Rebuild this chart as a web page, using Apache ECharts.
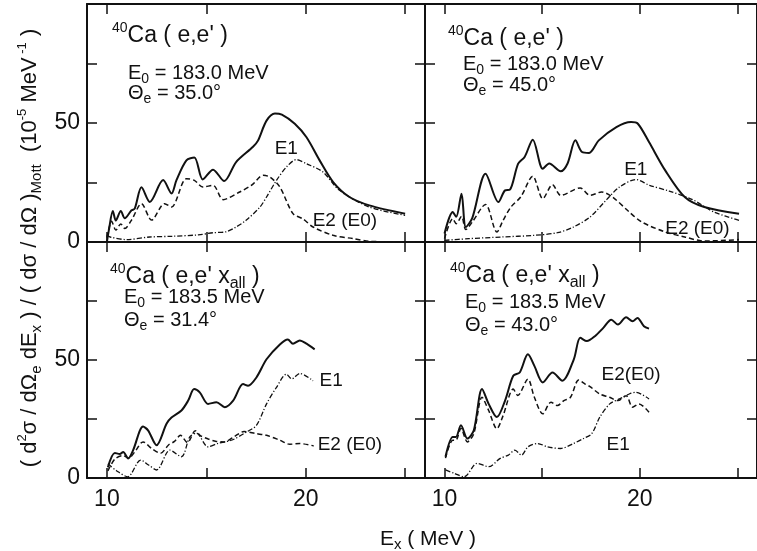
<!DOCTYPE html>
<html>
<head>
<meta charset="utf-8">
<script src="https://cdn.jsdelivr.net/npm/echarts@6/dist/echarts.min.js"></script>
<style>
html, body { margin: 0; padding: 0; background: #fff; }
#chart { width: 757px; height: 551px; }
</style>
</head>
<body>
<div id="chart"></div>
<script>
// Axis ranges and tick positions: excitation energy (MeV) and cross section (10^-5 MeV^-1)
const xRange = [9, 26];
const yRange = [0, 100];
const xTickValues = [10, 15, 20, 25];
const xLabelValues = [10, 20];
const yTickValues = [0, 25, 50, 75];
const yLabelValues = [0, 50];

// 40Ca(e,e'), E0 = 183.0 MeV, theta_e = 35.0 deg
const ee35Total = [[10.0,0],[10.1,5],[10.3,13],[10.45,9],[10.7,13],[10.9,10],[11.24,13.3],[11.4,14],[11.74,23],[12.16,16.8],[12.83,26],[13.25,20.4],[13.5,26],[14.0,34.3],[14.4,35.5],[14.82,26.3],[15.34,30.4],[15.9,25.6],[16.5,33.6],[17.35,40],[17.6,42.6],[18.03,51],[18.45,54],[18.8,53.5],[19.45,49.7],[20.04,44],[20.7,34.3],[21.38,25.2],[22.2,18.9],[23.2,15.4],[25.0,11.9]];
const ee35E2 = [[10.0,1.8],[10.24,8.7],[10.45,5],[10.7,7.6],[10.9,5.7],[11.24,9.2],[11.74,16.1],[12.25,9.2],[12.9,16.1],[13.25,14.7],[14.0,26.6],[14.4,25.9],[14.82,23.1],[15.34,23.8],[15.85,17.8],[16.68,21],[17.3,24],[17.86,28],[18.2,27.3],[18.7,23.1],[19.36,11.9],[19.86,9.7],[20.37,6.3],[21.38,2.8],[22.4,1.4],[23.2,0.3],[25.0,0]];
const ee35E1 = [[10.0,2.8],[10.2,2],[11.0,1],[12.16,2.1],[13.3,2.4],[14.6,3],[15.34,3.9],[16.0,4.3],[16.5,6.3],[17.0,9.1],[17.7,14.7],[18.03,18.9],[18.53,25.9],[19.03,31.5],[19.53,34.6],[20.04,32.9],[20.87,29.4],[21.7,21.7],[23.2,14.7],[25.0,11.2]];

// 40Ca(e,e'), E0 = 183.0 MeV, theta_e = 45.0 deg
const ee45Total = [[10.0,3.6],[10.42,12.6],[10.6,10.6],[10.87,20.3],[11.09,6.3],[11.42,10],[12.1,28.7],[12.76,16.8],[13.1,21.7],[13.35,22],[13.77,32.9],[14.1,35.7],[14.52,43],[15.03,30.8],[15.36,33],[15.95,29.7],[16.3,33],[16.7,42.7],[17.04,37.8],[17.4,37.4],[17.9,42.7],[18.8,48.3],[19.55,50.4],[19.9,49.7],[20.47,42],[21.3,30.1],[22.3,18.9],[23.3,14.7],[25.08,11.9]];
const ee45E2 = [[10.0,1.4],[10.42,9.8],[10.6,7.7],[10.87,10.8],[11.09,5.2],[11.42,8.4],[12.1,15.8],[12.68,4.2],[13.0,9.1],[13.4,14.7],[13.9,18.9],[14.52,27.6],[15.03,18.2],[15.53,24.1],[15.95,19.6],[16.95,22.7],[17.45,19.6],[18.04,21],[18.6,18.9],[19.46,12.6],[20.1,8.4],[21.3,4.2],[22.3,2.1],[23.3,0.4],[25.08,1]];
const ee45E1 = [[10.0,0.7],[11.25,1.4],[12.93,2.1],[14.6,2.8],[15.78,3.9],[16.6,6.3],[17.45,10.5],[18.3,17.8],[18.96,23.1],[19.8,26.2],[20.5,23.8],[21.5,21.4],[22.7,17.8],[23.8,12.6],[25.08,9.1]];

// 40Ca(e,e'x_all), E0 = 183.5 MeV, theta_e = 31.4 deg
const eex31Total = [[10.05,4.5],[10.4,10.6],[10.65,10.2],[10.82,11],[11.07,8.3],[11.32,11.8],[11.82,21.8],[12.07,20.2],[12.5,13.9],[13.0,23],[13.25,25.6],[13.75,28.6],[14.09,32.8],[14.39,37.7],[14.67,36.3],[15.09,31.4],[15.51,32.1],[15.93,30],[16.35,32.8],[16.85,39.8],[17.1,39.1],[17.52,42.6],[18.03,50.3],[18.7,56.6],[19.1,58.7],[19.36,56.9],[19.7,58.3],[20.04,56.9],[20.45,54.5]];
const eex31E2 = [[10.05,3],[10.4,8],[10.8,9.5],[11.1,8.5],[11.4,11],[11.82,15.3],[12.25,12.5],[12.7,10.5],[13.1,14],[13.4,15.5],[13.7,18.1],[14.05,15],[14.45,20],[14.7,18],[15.1,16.5],[15.5,15.5],[15.9,15.3],[16.4,17.5],[16.9,19.7],[17.5,18.8],[18.03,18.1],[18.7,16],[19.2,14.3],[19.7,14.6],[20.4,13.6]];
const eex31E1 = [[10.05,6],[10.5,3],[11.05,0.5],[11.7,7.6],[12.1,5.5],[12.5,3.4],[13.17,11.8],[13.75,9],[14.17,17.4],[14.5,19],[15.09,13.2],[15.6,14.7],[16.3,16.1],[17.02,19.5],[17.52,22.3],[18.03,31.4],[18.53,38.4],[19.03,44],[19.3,42],[19.7,44.3],[20.37,41.2]];

// 40Ca(e,e'x_all), E0 = 183.5 MeV, theta_e = 43.0 deg
const eex43Total = [[10.05,9],[10.42,17.4],[10.58,17.4],[10.84,22.3],[11.17,16.7],[11.5,20.2],[11.92,37.7],[12.26,31.4],[12.68,25.8],[13.1,32.8],[13.52,43.3],[13.85,44.7],[14.27,52.4],[14.6,47.5],[15.03,40.5],[15.53,44.7],[16.03,41.2],[16.62,50.3],[16.95,59.4],[17.29,58],[17.7,60.1],[18.13,63.6],[18.54,67.1],[18.88,65],[19.3,68.1],[19.63,66.4],[19.88,67.8],[20.21,64.3],[20.47,63.3]];
const eex43E2 = [[10.05,8.4],[10.42,16],[10.58,16],[10.84,21],[11.17,15.3],[11.5,18.8],[11.92,34.2],[12.26,28.6],[12.68,20.9],[13.0,26.5],[13.52,37.7],[13.75,35],[14.27,41.9],[14.6,34.2],[15.03,27.2],[15.45,32.1],[15.78,30.7],[16.11,32.8],[16.45,34.2],[16.87,41.5],[17.2,39.8],[17.45,38.7],[17.95,35.6],[18.45,34.2],[18.88,32.8],[19.3,34.9],[19.63,30],[19.96,31.4],[20.47,27.9]];
const eex43E1 = [[10.05,3.4],[10.5,2],[11.0,0.5],[11.67,6.2],[12.26,4.8],[12.85,8.3],[13.27,9.7],[13.6,11.8],[13.94,9.7],[14.27,13.2],[14.77,14.6],[15.28,13.2],[15.94,12.5],[16.6,14.6],[17.11,16.7],[17.54,18.8],[17.95,25.8],[18.46,31.4],[18.96,33.5],[19.46,35.6],[19.8,36.3],[20.47,33.5]];

// Panel headings
const panelReactions = ["{sup|40}Ca ( e,e' )", "{sup|40}Ca ( e,e' )", "{sup|40}Ca ( e,e' x{sub|all} )", "{sup|40}Ca ( e,e' x{sub|all} )"];
const panelBeamEnergies = ['183.0', '183.0', '183.5', '183.5'];
const panelAngles = ['35.0', '45.0', '31.4', '43.0'];

// Curve labels: [panel, x (MeV), y, text]
const curveLabels = [
  [0, 18.44, 39.2, 'E1'], [0, 20.35, 9.1, 'E2 (E0)'],
  [1, 19.2, 30.5, 'E1'], [1, 21.3, 5.5, 'E2 (E0)'],
  [2, 20.7, 41.4, 'E1'], [2, 20.6, 13.9, 'E2 (E0)'],
  [3, 18.3, 14.1, 'E1'], [3, 18.04, 43.9, 'E2(E0)']
];

const panelCurves = [
  [ee35Total, ee35E2, ee35E1],
  [ee45Total, ee45E2, ee45E1],
  [eex31Total, eex31E2, eex31E1],
  [eex43Total, eex43E2, eex43E1]
];

const FONT = "'Liberation Sans', Arial, Helvetica, sans-serif";
const INK = '#111';

const grids = [
  { left: 87, top: 4, width: 338, height: 238 },
  { left: 425, top: 4, width: 338, height: 238 },
  { left: 87, top: 242, width: 338, height: 236 },
  { left: 425, top: 242, width: 338, height: 236 }
];

// Heading offsets inside each panel (px from the panel's top-left corner)
const headingLayout = [
  { x1: 25, y1: 32, x2: 41, y2: 69, y3: 89 },
  { x1: 23, y1: 35, x2: 38, y2: 60, y3: 81 },
  { x1: 23, y1: 35, x2: 37, y2: 55, y3: 78 },
  { x1: 25, y1: 34, x2: 40, y2: 60, y3: 83 }
];

const curveStyles = [
  { type: 'solid', width: 2 },
  { type: [5, 3], width: 1.5 },
  { type: [5, 2, 1.2, 2], width: 1.3 }
];

const xAxes = [], yAxes = [], series = [];
grids.forEach((g, gi) => {
  const bottomRow = gi >= 2;
  const leftCol = gi % 2 === 0;
  const common = {
    type: 'value', gridIndex: gi, splitLine: { show: false },
    axisLine: { show: true, onZero: false, lineStyle: { color: INK, width: 2 } },
    axisTick: { show: true, inside: true, length: 10, lineStyle: { color: INK, width: 1.5 } }
  };
  xAxes.push(Object.assign({}, common, {
    position: 'bottom', min: xRange[0], max: xRange[1],
    axisTick: Object.assign({}, common.axisTick, { customValues: xTickValues }),
    axisLabel: { show: bottomRow, customValues: xLabelValues, color: INK, fontSize: 23, fontFamily: FONT, margin: 10 }
  }));
  xAxes.push(Object.assign({}, common, {
    position: 'top', min: xRange[0], max: xRange[1],
    axisTick: Object.assign({}, common.axisTick, { customValues: xTickValues }),
    axisLabel: { show: false }
  }));
  yAxes.push(Object.assign({}, common, {
    position: 'left', min: yRange[0], max: yRange[1],
    axisTick: Object.assign({}, common.axisTick, { customValues: yTickValues }),
    axisLabel: { show: leftCol, customValues: yLabelValues, color: INK, fontSize: 23, fontFamily: FONT, margin: 7 }
  }));
  yAxes.push(Object.assign({}, common, {
    position: 'right', min: yRange[0], max: yRange[1],
    axisTick: Object.assign({}, common.axisTick, { customValues: yTickValues }),
    axisLabel: { show: false }
  }));
  panelCurves[gi].forEach((data, ci) => {
    series.push({
      type: 'line', xAxisIndex: gi * 2, yAxisIndex: gi * 2, data: data,
      showSymbol: false, symbol: 'none', smooth: 0.3, silent: true,
      lineStyle: { color: INK, width: curveStyles[ci].width, type: curveStyles[ci].type },
      z: 3 - ci
    });
  });
});

const chart = echarts.init(document.getElementById('chart'), null, { renderer: 'canvas' });
chart.setOption({
  animation: false,
  backgroundColor: '#fff',
  grid: grids,
  xAxis: xAxes,
  yAxis: yAxes,
  series: series
});

// Rich-text super/subscripts: the token's line box is shortened so it sits
// a fixed offset above (top) or below (bottom) the main glyph centre.
function richScript(size, lineH) {
  const supSize = Math.round(size * 0.6);
  const subSize = Math.round(size * 0.7);
  return {
    sup: { fontSize: supSize, lineHeight: lineH - Math.round(size * 0.5), verticalAlign: 'top', fontFamily: FONT, fill: INK },
    sub: { fontSize: subSize, lineHeight: lineH - Math.round(size * 0.46), verticalAlign: 'bottom', fontFamily: FONT, fill: INK }
  };
}

function textEl(x, y, text, size, align, extra) {
  const lineH = Math.round(size * 1.3);
  return Object.assign({
    type: 'text', x: x, y: y, silent: true, z: 10,
    style: {
      text: text, fontSize: size, fontFamily: FONT, fill: INK,
      lineHeight: lineH, align: align || 'left', verticalAlign: 'middle',
      rich: richScript(size, lineH)
    }
  }, extra || {});
}

const graphics = [];
grids.forEach((g, gi) => {
  const L = headingLayout[gi];
  graphics.push(textEl(g.left + L.x1, g.top + L.y1, panelReactions[gi], 23));
  graphics.push(textEl(g.left + L.x2, g.top + L.y2, 'E{sub|0} = ' + panelBeamEnergies[gi] + ' MeV', 20));
  graphics.push(textEl(g.left + L.x2, g.top + L.y3, '\u0398{sub|e} = ' + panelAngles[gi] + '\u00b0', 20));
});

// First series of each panel carries that panel's coordinate system
curveLabels.forEach(([panel, x, y, text]) => {
  const p = chart.convertToPixel({ seriesIndex: panel * 3 }, [x, y]);
  graphics.push(textEl(p[0], p[1], text, 19));
});

// Shared axis titles
graphics.push(textEl(428, 539, 'E{sub|x} ( MeV )', 21, 'center'));
graphics.push(textEl(30, 248,
  '( d{sup|2}\u03c3 / d\u03a9{sub|e} dE{sub|x} ) / ( d\u03c3 / d\u03a9 ){sub|Mott}  (10{sup|-5} MeV{sup| -1} )',
  22, 'center', { rotation: Math.PI / 2 }));

chart.setOption({ graphic: graphics });
</script>
</body>
</html>
